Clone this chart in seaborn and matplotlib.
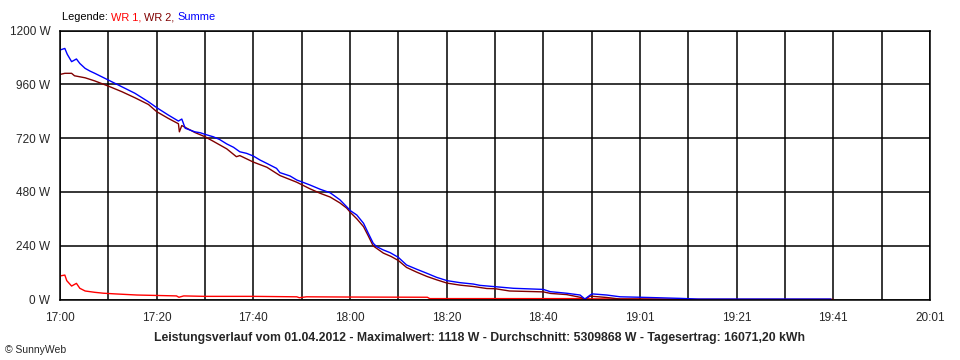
import pandas as pd
import matplotlib.pyplot as plt
import seaborn as sns

# minutes after 17:00 / watts
wr1_t = [0, 1.0, 1.4, 2.4, 3.4, 4.1, 5.2, 7.2, 9, 11.4, 15.9, 24.1, 24.6, 25.6, 30, 40,
         49, 49.5, 51, 60, 76, 76.5, 108, 110, 127, 130, 160]
wr1_w = [105, 109, 84, 60, 72, 50, 38, 32, 28, 25, 20, 16, 10, 16, 14, 14,
         12, 8, 12, 11, 10, 4, 4, 3, 1, 0, 0]

wr2_t = [0, 1, 2.4, 3, 5.2, 7.2, 10, 12.8, 15.5, 18.3, 20, 22.4, 24.5, 24.7, 25.2, 27.9,
         30, 31.7, 34.5, 36.5, 37.2, 40, 42.8, 45.5, 49, 51.7, 53.8, 55.9, 57.9, 59.3,
         60.1, 61.4, 62.8, 63.8, 64.8, 66.9, 68.5, 70, 71.7, 73.8, 75.9, 77.9, 80.1,
         82.8, 85.5, 88.3, 90.1, 93, 100, 101.5, 104.8, 107.6, 108.6, 109.7, 113.1,
         115.9, 120, 128, 160]
wr2_w = [1004, 1009, 1009, 998, 989, 975, 952, 927, 900, 870, 838, 808, 784, 748, 776, 745,
         726, 706, 672, 637, 642, 613, 590, 553, 523, 494, 474, 457, 431, 408,
         388, 360, 325, 283, 239, 207, 192, 174, 143, 122, 103, 88, 73,
         64, 58, 49, 48, 38, 34, 27, 22, 10, 2, 15, 9,
         2, 2, 0, 0]

sum_t = [0, 1.0, 1.5, 2.4, 3.4, 4.1, 5.2, 6.2, 7.2, 8.6, 10, 12.8, 15.5, 18.3, 20, 22.4,
         24.5, 25.2, 25.9, 27.9, 29.0, 30.1, 31.7, 33, 34.5, 35.9, 37.2, 38.6, 40, 41.4,
         42.8, 44.8, 45.5, 47.6, 49, 50, 51.7, 53.8, 55.9, 57.9, 59.3, 60.1, 61.4, 62.8,
         63.8, 64.8, 65.5, 66.9, 68.3, 70, 71.7, 73.8, 75.9, 77.9, 80.1, 82.8, 85.5,
         86.9, 90.1, 93.8, 100, 101.4, 104.8, 107.6, 108.6, 109.7, 110.1, 113.1, 115.9,
         120.1, 128.3, 132, 159.5]
sum_w = [1113, 1120, 1094, 1061, 1073, 1053, 1031, 1019, 1009, 994, 979, 949, 920, 882, 856, 823,
         796, 805, 764, 748, 744, 736, 726, 714, 694, 679, 659, 652, 640, 622,
         607, 585, 566, 551, 533, 525, 511, 492, 476, 445, 414, 396, 377, 340,
         295, 251, 236, 221, 209, 188, 154, 135, 117, 99, 84, 75, 69,
         63, 57, 50, 45, 35, 28, 20, 2, 20, 25, 20, 12,
         10, 5, 2, 2]

x_ticks = list(range(0, 181, 10))
x_labels = ['17:00', '', '17:20', '', '17:40', '', '18:00', '', '18:20', '', '18:40', '',
            '19:01', '', '19:21', '', '19:41', '', '20:01']
y_ticks = [0, 240, 480, 720, 960, 1200]

colors = {'WR 1': '#ff0000', 'WR 2': '#800000', 'Summe': '#0000ff'}

data = pd.concat([
    pd.DataFrame({'t': wr1_t, 'W': wr1_w, 'serie': 'WR 1'}),
    pd.DataFrame({'t': wr2_t, 'W': wr2_w, 'serie': 'WR 2'}),
    pd.DataFrame({'t': sum_t, 'W': sum_w, 'serie': 'Summe'}),
], ignore_index=True)

sns.set_style('white')
plt.rcParams['font.family'] = ['Liberation Sans', 'DejaVu Sans']
plt.rcParams['font.size'] = 8.5

fig = plt.figure(figsize=(9.6, 3.6), dpi=100)
ax = fig.add_axes([60 / 960, 60.5 / 360, 870 / 960, 269 / 360])

sns.lineplot(data=data, x='t', y='W', hue='serie', hue_order=['WR 1', 'WR 2', 'Summe'],
             palette=colors, estimator=None, sort=False, lw=1, legend=False, ax=ax)

ax.set_xlim(0, 180)
ax.set_ylim(0, 1200)
ax.set_xticks(x_ticks)
ax.set_xticklabels(x_labels)
ax.set_yticks(y_ticks)
ax.set_yticklabels([f'{v} W' for v in y_ticks])
ax.set_xlabel('')
ax.set_ylabel('')
ax.grid(True, color='black', lw=1.1)
ax.set_axisbelow(True)
for s in ax.spines.values():
    s.set_color('black')
    s.set_linewidth(1.1)
ax.tick_params(axis='y', length=5, width=1.1, color='black', pad=2, labelsize=8.5)
ax.tick_params(axis='x', length=4, width=1.1, color='black', pad=5, labelsize=8.5)

# legend line
t = fig.text(62 / 960, 1 - 17 / 360, 'Legende: ', va='center', fontsize=7.9, color='black')
for txt, c in [('WR 1, ', colors['WR 1']), ('WR 2, ', colors['WR 2']), ('Summe', colors['Summe'])]:
    t = ax.annotate(txt, xy=(1, 0), xycoords=t, va='bottom', fontsize=7.9, color=c)

fig.text(0.5, 1 - 338 / 360,
         'Leistungsverlauf vom 01.04.2012 - Maximalwert: 1118 W - Durchschnitt: 5309868 W - Tagesertrag: 16071,20 kWh',
         ha='center', va='center', fontsize=8.8, fontweight='bold')
fig.text(5 / 960, 1 - 350 / 360, '© SunnyWeb', va='center', fontsize=7.5)

fig.savefig('out.png', dpi=100)
